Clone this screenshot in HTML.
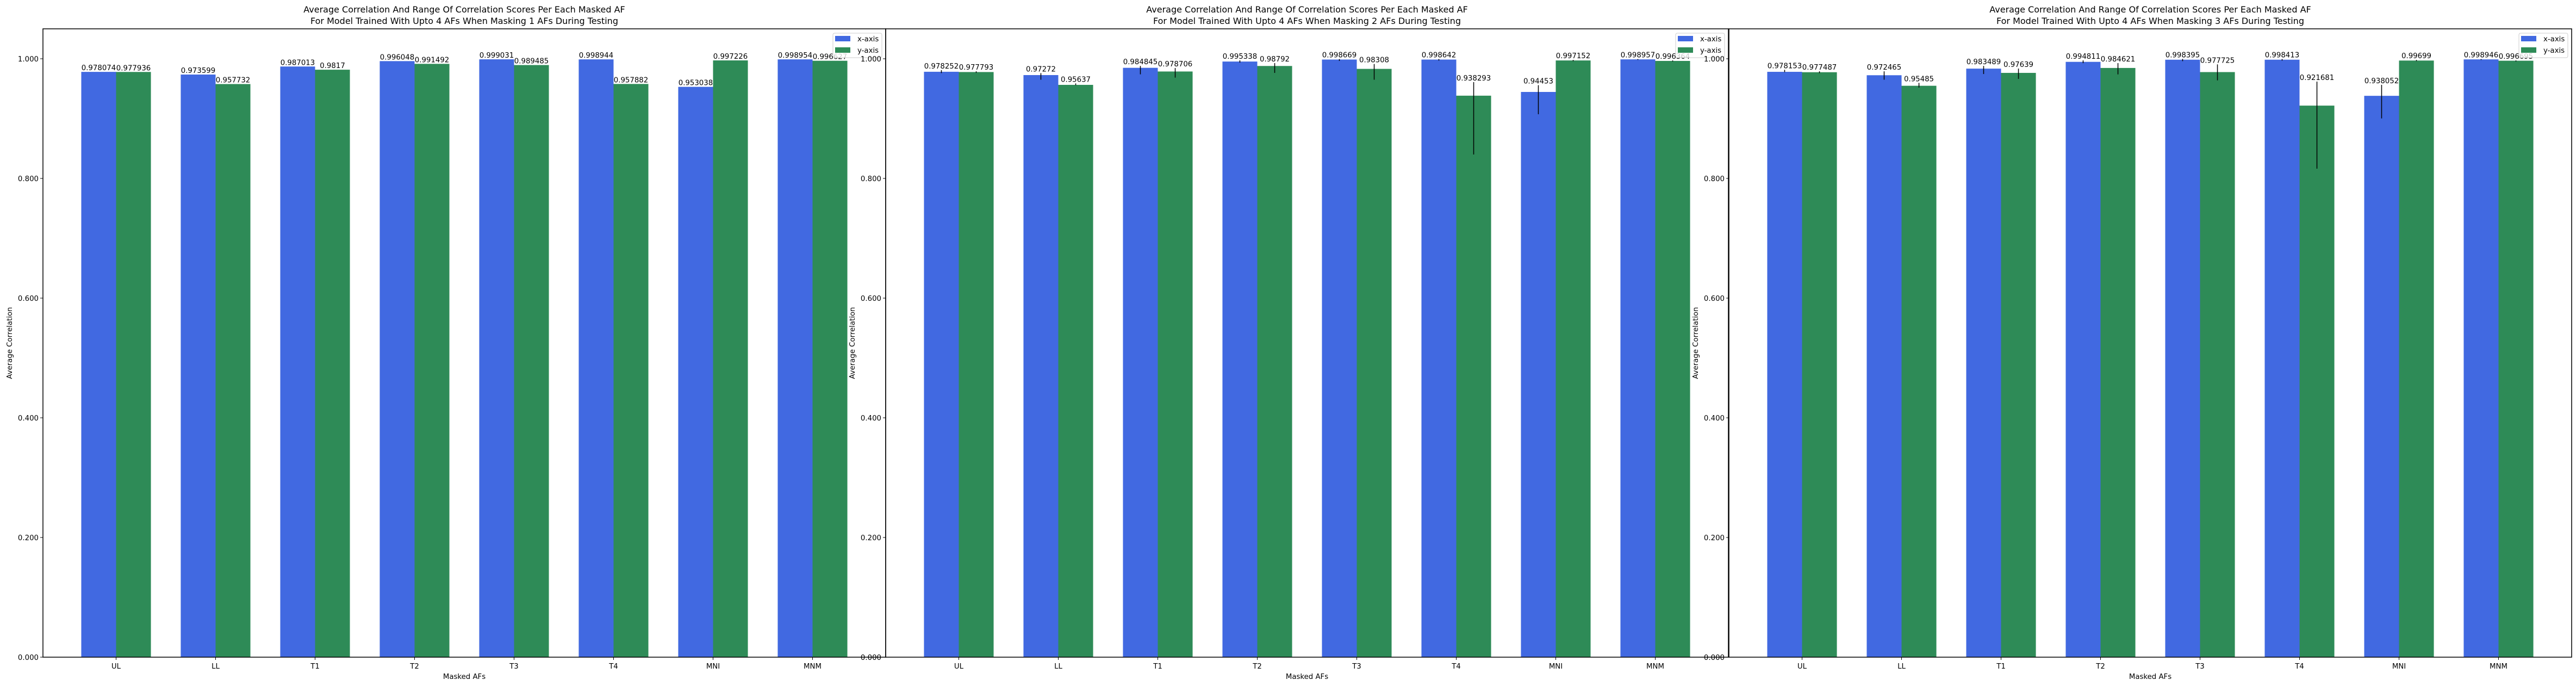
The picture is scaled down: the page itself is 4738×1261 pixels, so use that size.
<!DOCTYPE html>
<html><head><meta charset="utf-8">
<style>
html,body{margin:0;padding:0;background:#fff;}
svg{display:block;font-family:"DejaVu Sans","Liberation Sans",sans-serif;}
</style></head>
<body>
<svg id="fig" width="4738" height="1261" xmlns="http://www.w3.org/2000/svg"></svg>
<script>
const categories = ["UL","LL","T1","T2","T3","T4","MNI","MNM"];
const yTicks = [0,0.2,0.4,0.6,0.8,1.0];
const titles1 = ["Average Correlation And Range Of Correlation Scores Per Each Masked AF","Average Correlation And Range Of Correlation Scores Per Each Masked AF","Average Correlation And Range Of Correlation Scores Per Each Masked AF"];
const titles2 = ["For Model Trained With Upto 4 AFs When Masking 1 AFs During Testing","For Model Trained With Upto 4 AFs When Masking 2 AFs During Testing","For Model Trained With Upto 4 AFs When Masking 3 AFs During Testing"];
// panel 1
const x1 = [0.978074,0.973599,0.987013,0.996048,0.999031,0.998944,0.953038,0.998954];
const y1 = [0.977936,0.957732,0.9817,0.991492,0.989485,0.957882,0.997226,0.996627];
const x1Lo = [0.978074,0.973599,0.987013,0.996048,0.999031,0.998944,0.953038,0.998954];
const x1Hi = [0.978074,0.973599,0.987013,0.996048,0.999031,0.998944,0.953038,0.998954];
const y1Lo = [0.977936,0.957732,0.9817,0.991492,0.989485,0.957882,0.997226,0.996627];
const y1Hi = [0.977936,0.957732,0.9817,0.991492,0.989485,0.957882,0.997226,0.996627];
// panel 2
const x2 = [0.978252,0.97272,0.984845,0.995338,0.998669,0.998642,0.94453,0.998957];
const y2 = [0.977793,0.95637,0.978706,0.98792,0.98308,0.938293,0.997152,0.996364];
const x2Lo = [0.976,0.965,0.974,0.9936,0.9964,0.997,0.9073,0.998];
const x2Hi = [0.981,0.976,0.988,0.9973,0.9995,0.9995,0.9558,0.9995];
const y2Lo = [0.9765,0.9558,0.9685,0.9764,0.965,0.840,0.996,0.9955];
const y2Hi = [0.979,0.9588,0.9845,0.9927,0.9912,0.961,0.998,0.9972];
// panel 3
const x3 = [0.978153,0.972465,0.983489,0.994811,0.998395,0.998413,0.938052,0.998946];
const y3 = [0.977487,0.95485,0.97639,0.984621,0.977725,0.921681,0.99699,0.996695];
const x3Lo = [0.9776,0.965,0.9745,0.9927,0.996,0.997,0.9003,0.998];
const x3Hi = [0.9815,0.979,0.988,0.9973,0.9997,0.9995,0.9564,0.9995];
const y3Lo = [0.976,0.9518,0.9664,0.9739,0.9639,0.8164,0.996,0.9955];
const y3Hi = [0.979,0.9597,0.9836,0.9927,0.9906,0.9618,0.998,0.9972];

const panels = [
  {xs:x1,ys:y1,xl:x1Lo,xh:x1Hi,yl:y1Lo,yh:y1Hi},
  {xs:x2,ys:y2,xl:x2Lo,xh:x2Hi,yl:y2Lo,yh:y2Hi},
  {xs:x3,ys:y3,xl:x3Lo,xh:x3Hi,yl:y3Lo,yh:y3Hi}
];
const NS="http://www.w3.org/2000/svg";
const svg=document.getElementById('fig');
function mk(tag,attrs,parent,text){const e=document.createElementNS(NS,tag);for(const k in attrs)e.setAttribute(k,attrs[k]);if(text!==undefined)e.textContent=text;(parent||svg).appendChild(e);return e;}
const lefts=[79,1629,3180], W=1550, axTop=53, axBot=1208, ymax=1.05, bw=0.35;
panels.forEach((p,pi)=>{
  const L=lefts[pi];
  const g=mk('g',{});
  
  
  const xmin=-0.735,xmaxv=categories.length-1+0.735;
  const X=v=>L+(v-xmin)/(xmaxv-xmin)*W;
  const Y=v=>axBot-(v/ymax)*(axBot-axTop);
  const series=[{v:p.xs,lo:p.xl,hi:p.xh,c:'#4169e1',o:-bw/2,n:'x-axis'},{v:p.ys,lo:p.yl,hi:p.yh,c:'#2e8b57',o:bw/2,n:'y-axis'}];
  series.forEach(s=>{
    s.v.forEach((v,i)=>{
      const r=mk('rect',{x:X(i+s.o-bw/2),y:Y(v),width:X(i+s.o+bw/2)-X(i+s.o-bw/2),height:Y(0)-Y(v),fill:s.c},g);
      
      
    });
  });
  series.forEach(s=>{
    s.v.forEach((v,i)=>{
      const cx=X(i+s.o);
      const e=mk('line',{x1:cx,x2:cx,y1:Y(s.lo[i]),y2:Y(s.hi[i]),stroke:'#000','stroke-width':1.5},g);
      
      
      const t=mk('text',{x:cx,y:Math.min(Y(s.hi[i]),Y(v))-3,'text-anchor':'middle','font-size':13.3,fill:'#000'},g,String(v));
      
      
    });
  });
  mk('rect',{x:L,y:axTop,width:W,height:axBot-axTop,fill:'none',stroke:'#000','stroke-width':1.5},g);
  yTicks.forEach(t=>{
    mk('line',{x1:L-5,x2:L,y1:Y(t),y2:Y(t),stroke:'#000','stroke-width':1},g);
    const tl=mk('text',{x:L-8,y:Y(t)+5,'text-anchor':'end','font-size':13.3},g,t.toFixed(3));
    
    
  });
  categories.forEach((c,i)=>{
    mk('line',{x1:X(i),x2:X(i),y1:axBot,y2:axBot+5,stroke:'#000','stroke-width':1},g);
    const tl=mk('text',{x:X(i),y:axBot+21,'text-anchor':'middle','font-size':13.3},g,c);
    
    
  });
  const xt=mk('text',{x:L+W/2,y:1248,'text-anchor':'middle','font-size':13.3},g,'Masked AFs');
  
  
  const yt=mk('text',{x:0,y:0,'text-anchor':'middle','font-size':13.3,transform:'translate('+(L-57)+','+((axTop+axBot)/2)+') rotate(-90)'},g,'Average Correlation');
  
  
  const t1=mk('text',{x:L+W/2,y:23,'text-anchor':'middle','font-size':16},g,titles1[pi]);
  
  
  const t2=mk('text',{x:L+W/2,y:44,'text-anchor':'middle','font-size':16},g,titles2[pi]);
  
  
  const lg=mk('g',{},g);
  
  
  const R=L+W;
  mk('rect',{x:R-97,y:61,width:90,height:45,rx:3,fill:'#fff','fill-opacity':0.8,stroke:'#ccc'},lg);
  series.forEach((s,k)=>{
    mk('rect',{x:R-93,y:66+k*21,width:28,height:10,fill:s.c},lg);
    const lt=mk('text',{x:R-52,y:76+k*21,'font-size':13.3},lg,s.n);
    
    
  });
});
</script>
</body></html>
